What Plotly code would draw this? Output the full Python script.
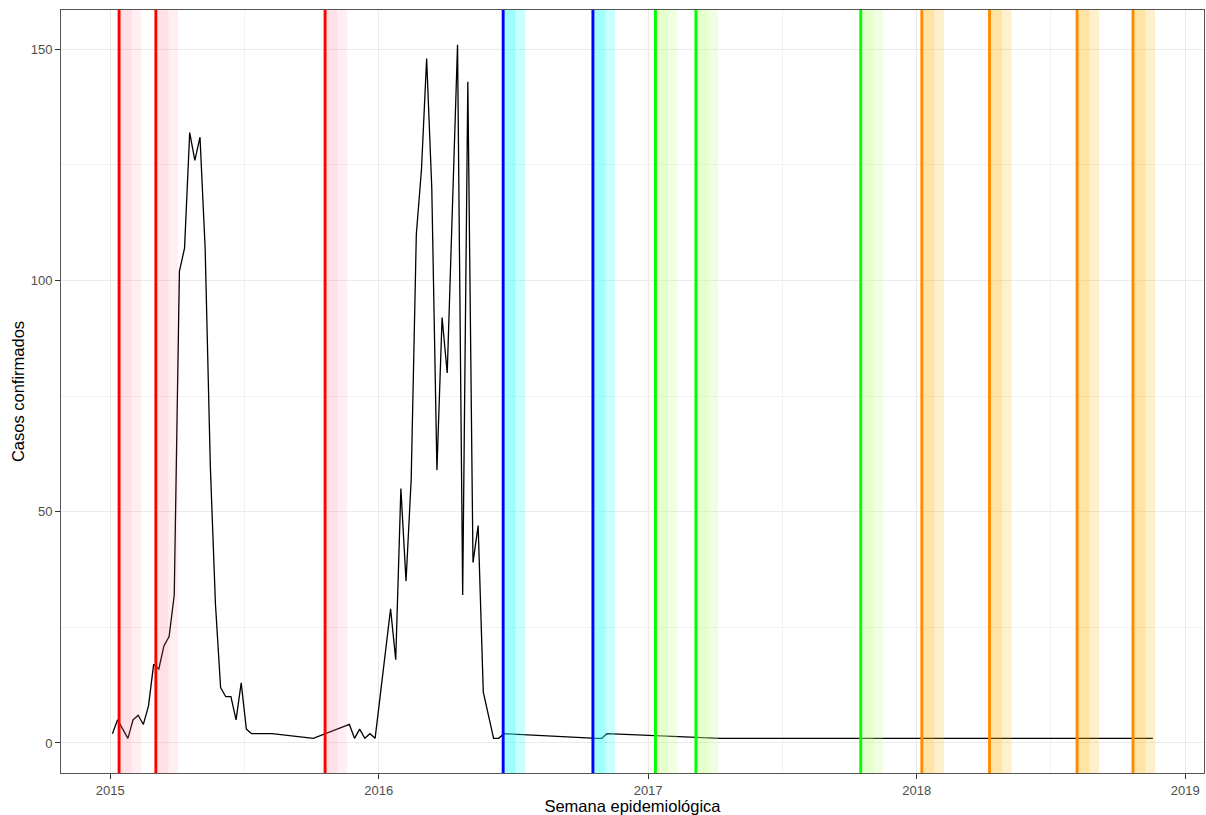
import plotly.graph_objects as go
from datetime import date, timedelta

# ---- data ----
semanas = [
    "2015-01-04", "2015-01-11", "2015-01-18", "2015-01-25", "2015-02-01", "2015-02-08",
    "2015-02-15", "2015-02-22", "2015-03-01", "2015-03-08", "2015-03-15", "2015-03-22",
    "2015-03-29", "2015-04-05", "2015-04-12", "2015-04-19", "2015-04-26", "2015-05-03",
    "2015-05-10", "2015-05-17", "2015-05-24", "2015-05-31", "2015-06-07", "2015-06-14",
    "2015-06-21", "2015-06-28", "2015-07-05", "2015-07-12", "2015-07-19", "2015-07-26",
    "2015-08-02", "2015-08-09", "2015-10-04", "2015-11-22", "2015-11-29", "2015-12-06",
    "2015-12-13", "2015-12-20", "2015-12-27", "2016-01-17", "2016-01-24", "2016-01-31",
    "2016-02-07", "2016-02-14", "2016-02-21", "2016-02-28", "2016-03-06", "2016-03-13",
    "2016-03-20", "2016-03-27", "2016-04-03", "2016-04-10", "2016-04-17", "2016-04-24",
    "2016-05-01", "2016-05-08", "2016-05-15", "2016-05-22", "2016-06-05", "2016-06-12",
    "2016-06-19", "2016-10-23", "2016-10-30", "2016-11-06", "2017-04-09", "2018-11-18",
]
casos = [
    2, 5, 3, 1, 5, 6,
    4, 8, 17, 16, 21, 23,
    32, 102, 107, 132, 126, 131,
    107, 60, 30, 12, 10, 10,
    5, 13, 3, 2, 2, 2,
    2, 2, 1, 4, 1, 3,
    1, 2, 1, 29, 18, 55,
    35, 57, 110, 124, 148, 120,
    59, 92, 80, 115, 151, 32,
    143, 39, 47, 11, 1, 1,
    2, 1, 1, 2, 1, 1,
]

eventos_fecha = [
    "2015-01-13", "2015-03-04", "2015-10-20",
    "2016-06-18", "2016-10-18",
    "2017-01-11", "2017-03-07", "2017-10-17",
    "2018-01-08", "2018-04-10", "2018-08-07", "2018-10-22",
]
eventos_grupo = [
    "rojo", "rojo", "rojo",
    "azul", "azul",
    "verde", "verde", "verde",
    "naranja", "naranja", "naranja", "naranja",
]
ventana_dias = [17, 30]

x_ticks = ["2015-01-01", "2016-01-01", "2017-01-01", "2018-01-01", "2019-01-01"]
x_ticktext = ["2015", "2016", "2017", "2018", "2019"]
x_minor = ["2015-07-02", "2016-07-02", "2017-07-02", "2018-07-02"]
y_ticks = [0, 50, 100, 150]
y_minor = [25, 75, 125]

# ---- styles ----
line_colors = {"rojo": "#FF0000", "azul": "#0000FF", "verde": "#00FF00", "naranja": "#FF8C00"}
band_colors = {
    "rojo": "rgba(255,105,135,0.11)",
    "azul": "rgba(52,255,255,0.27)",
    "verde": "rgba(195,255,135,0.25)",
    "naranja": "rgba(255,180,5,0.20)",
}

fig = go.Figure()
fig.add_trace(go.Scatter(
    x=semanas, y=casos, mode="lines",
    line=dict(color="black", width=1.3),
    showlegend=False, hoverinfo="x+y",
))

shapes = []
for f, g in zip(eventos_fecha, eventos_grupo):
    d0 = date.fromisoformat(f)
    for w in ventana_dias:
        shapes.append(dict(
            type="rect", xref="x", yref="paper",
            x0=d0.isoformat(), x1=(d0 + timedelta(days=w)).isoformat(),
            y0=0, y1=1, fillcolor=band_colors[g], line=dict(width=0),
            layer="above",
        ))
for f, g in zip(eventos_fecha, eventos_grupo):
    shapes.append(dict(
        type="line", xref="x", yref="paper",
        x0=f, x1=f, y0=0, y1=1,
        line=dict(color=line_colors[g], width=2.9), layer="above",
    ))

fig.update_layout(
    width=1206, height=815,
    margin=dict(l=61, r=2, t=10, b=42),
    paper_bgcolor="white", plot_bgcolor="white",
    font=dict(family="Liberation Sans, Arial, sans-serif", color="black"),
    shapes=shapes,
    showlegend=False,
)
fig.update_xaxes(
    type="date",
    range=["2014-10-26 02:00", "2019-01-26 12:00"],
    tickmode="array", tickvals=x_ticks, ticktext=x_ticktext,
    ticks="outside", ticklen=5, tickcolor="#333333", tickwidth=1,
    tickfont=dict(size=13, color="#4D4D4D"),
    showgrid=True, gridcolor="#EBEBEB", gridwidth=1.1,
    minor=dict(tickmode="array", tickvals=x_minor, showgrid=True,
               gridcolor="#F2F2F2", gridwidth=0.6, ticks=""),
    showline=True, mirror=True, linecolor="#555555", linewidth=1,
    zeroline=False,
    title=dict(text="Semana epidemiológica", font=dict(size=16.5, color="black"), standoff=3),
)
fig.update_yaxes(
    range=[-6.5, 158.5],
    tickmode="array", tickvals=y_ticks,
    ticks="outside", ticklen=5, tickcolor="#333333", tickwidth=1,
    tickfont=dict(size=13, color="#4D4D4D"),
    showgrid=True, gridcolor="#EBEBEB", gridwidth=1.1,
    minor=dict(tickmode="array", tickvals=y_minor, showgrid=True,
               gridcolor="#F2F2F2", gridwidth=0.6, ticks=""),
    showline=True, mirror=True, linecolor="#555555", linewidth=1,
    zeroline=False,
    title=dict(text="Casos confirmados", font=dict(size=16.5, color="black"), standoff=1),
)

fig.write_html(
    "out.html",
    config={"displayModeBar": False},
    post_script="document.body.style.margin='0';document.body.style.overflow='hidden';",
)
